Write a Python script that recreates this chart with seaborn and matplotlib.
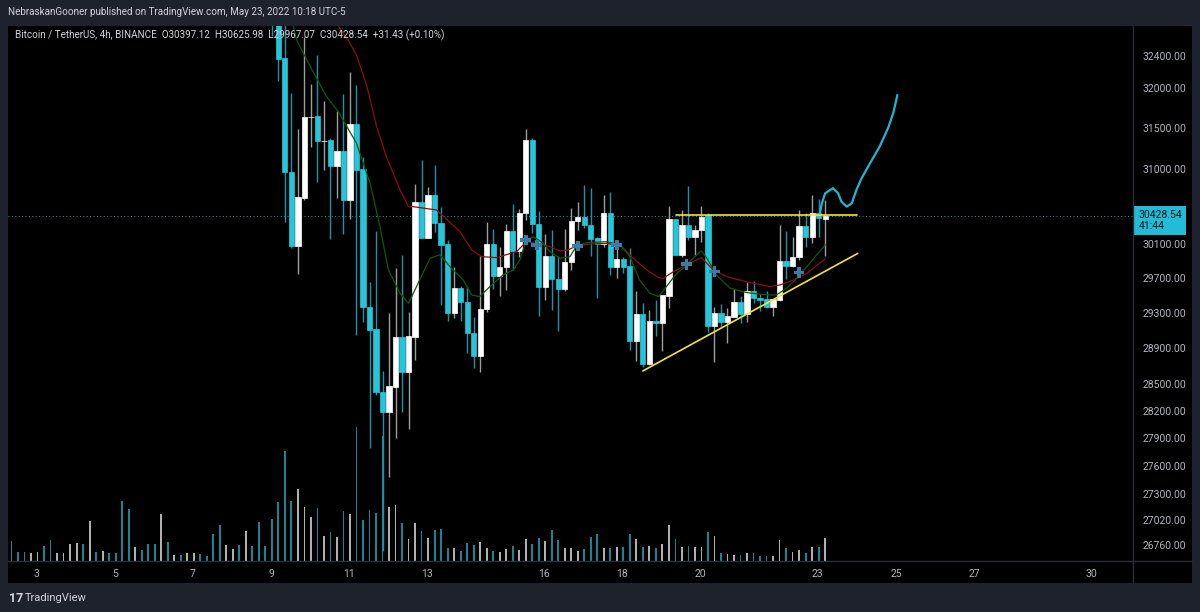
import numpy as np
import pandas as pd
import matplotlib
matplotlib.use("Agg")
import matplotlib.pyplot as plt
import matplotlib.transforms as mtransforms
from matplotlib.lines import Line2D
from matplotlib.patches import Rectangle
from matplotlib.ticker import FixedLocator, FixedFormatter, NullLocator
import seaborn as sns

# BTCUSDT 4h candles, May 2 - May 23 2022 (early ones are above the view)
opens = [38700, 38500, 38300, 37900, 38100, 38250, 37800, 37600, 37750, 37900,
         38200, 38600, 38400, 39500, 39300, 39500, 39200, 38800, 37200, 36300,
         36500, 36300, 36000, 35800, 36400, 36100, 36200, 36000, 36050, 36150,
         35900, 35800, 35200, 34400, 34600, 34700, 34300, 34600, 34200, 33500,
         33300, 32900, 32371, 30959, 30083, 30654, 31630, 31648, 31337, 31353,
         31036, 31222, 30626, 31553, 30999, 29374, 29116, 28413, 28192, 28469,
         29032, 28637, 29032, 30598, 30177, 30686, 30355, 30100, 29298, 29587,
         29431, 29077, 28816, 29347, 30100, 29732, 29838, 30257, 30025, 30467,
         31353, 30340, 29598, 29963, 29690, 29578, 29889, 30375, 30427, 30328,
         30170, 30103, 30467, 29838, 29927, 29846, 28986, 29286, 28720, 29211,
         29192, 29501, 30399, 29975, 30328, 30189, 30269, 30447, 29157, 29298,
         29196, 29260, 29431, 29290, 29555, 29478, 29459, 29367, 29451, 29908,
         29846, 29947, 30316, 30181, 30474, 30397.12]
highs = [38820, 38600, 38400, 38200, 38350, 38300, 37900, 37800, 38000, 38300,
         38700, 38700, 39800, 39700, 39600, 39600, 39300, 38900, 37300, 36700,
         36600, 36400, 36100, 36500, 36500, 36300, 36250, 36150, 36250, 36200,
         35950, 35850, 35300, 34700, 34800, 34750, 34700, 34650, 34300, 33600,
         33450, 33100, 32800, 31930, 31484, 32640, 32047, 32413, 31831, 31374,
         31714, 31922, 32194, 32031, 31149, 29662, 30261, 28645, 29299, 29826,
         29975, 29317, 30814, 31109, 30785, 31048, 30546, 30150, 29838, 29616,
         29613, 29260, 29966, 30360, 30284, 30072, 30336, 30574, 30518, 31485,
         31377, 30494, 30217, 30269, 29966, 30277, 30526, 30598, 30806, 30766,
         30185, 30686, 30718, 30130, 29947, 30052, 29555, 29413, 29336, 29451,
         29509, 30557, 30399, 30506, 30794, 30328, 30554, 30467, 29374, 29405,
         29355, 29575, 29497, 29655, 29670, 29517, 29555, 29459, 30328, 30257,
         30185, 30506, 30474, 30686, 30634, 30625.98]
lows = [38450, 38200, 37800, 37750, 38000, 37700, 37500, 37550, 37700, 37850,
        38100, 38200, 38300, 39200, 39200, 39100, 38700, 36900, 35900, 36200,
        36200, 35900, 35700, 35700, 36000, 36000, 35950, 35950, 36000, 35850,
        35700, 35100, 34200, 34300, 34500, 34200, 34100, 34100, 33400, 33200,
        32650, 32085, 30361, 30052, 29749, 30626, 31264, 30845, 30987, 30162,
        30646, 30222, 30395, 29051, 29203, 27795, 28378, 26700, 27485, 27907,
        28192, 28005, 28768, 30174, 30170, 30249, 29394, 29214, 29241, 29214,
        28843, 28675, 28637, 29317, 29575, 29497, 29567, 29799, 29955, 30387,
        30230, 29270, 29451, 29336, 29100, 29555, 29799, 30269, 30289, 29966,
        29471, 30064, 29740, 29701, 29760, 28881, 28757, 28693, 28712, 29043,
        28870, 29363, 29975, 29955, 30150, 29975, 30130, 29089, 28742, 29146,
        28956, 29260, 29184, 29203, 29413, 29325, 29355, 29271, 29443, 29690,
        29830, 29916, 30064, 30119, 30189, 29967.07]
closes = [38500, 38300, 37900, 38100, 38250, 37800, 37600, 37750, 37900, 38200,
          38600, 38400, 39500, 39300, 39500, 39200, 38800, 37200, 36300, 36500,
          36300, 36000, 35800, 36400, 36100, 36200, 36000, 36050, 36150, 35900,
          35800, 35200, 34400, 34600, 34700, 34300, 34600, 34200, 33500, 33300,
          32900, 32362, 30966, 30083, 30662, 31636, 31640, 31337, 31345, 31036,
          31222, 30626, 31553, 30987, 29374, 29108, 28407, 28192, 28480, 29032,
          28637, 29040, 30598, 30177, 30686, 30355, 30095, 29298, 29587, 29431,
          29077, 28816, 29351, 30100, 29732, 29838, 30257, 30025, 30467, 31353,
          30340, 29598, 29963, 29690, 29578, 29889, 30375, 30427, 30328, 30162,
          30103, 30467, 29838, 29927, 29838, 28986, 29286, 28720, 29211, 29184,
          29509, 30399, 29975, 30328, 30189, 30269, 30427, 29157, 29298, 29196,
          29268, 29431, 29290, 29555, 29471, 29451, 29367, 29459, 29908, 29846,
          29947, 30316, 30181, 30474, 30407, 30428.54]
volumes = [5900, 2800, 2800, 2300, 2800, 4600, 6400, 2500, 2300, 5000,
           5400, 5000, 12100, 2800, 3100, 2300, 2500, 18100, 15600, 4300,
           3400, 5000, 5200, 14100, 5700, 1900, 1900, 2300, 2500, 2100,
           1400, 8200, 10900, 4800, 3700, 4800, 9100, 4400, 11600, 4400,
           12700, 17600, 33100, 17900, 21600, 16300, 13100, 15900, 7600, 8800,
           7300, 14900, 14200, 40300, 12200, 15300, 14400, 37500, 16300, 16900,
           11500, 6600, 11500, 9100, 6800, 9300, 9700, 3800, 3900, 3000,
           5400, 4800, 5800, 3900, 3100, 2700, 3600, 4600, 3400, 6600,
           5200, 6800, 6100, 9400, 6400, 3900, 3900, 2900, 3700, 7300,
           8100, 3900, 3800, 4100, 4100, 8100, 6600, 4300, 4600, 3800,
           5200, 10800, 6600, 4100, 4600, 4100, 4100, 8600, 7400, 2400,
           2100, 1800, 1900, 2300, 2300, 1400, 1600, 1400, 6400, 3900,
           2800, 3400, 2500, 4100, 4100, 6800]

# moving averages (bar index, price) as traced on the chart
ma_slow_x = [50.2, 51.7, 53.0, 54.6, 56.1, 57.6, 59.7, 61.0, 61.7, 65.3, 68.9, 70.7,
             72.2, 74.5, 77.6, 79.1, 81.2, 82.7, 84.3, 85.5, 86.8, 88.9, 91.4, 93.7,
             95.5, 97.6, 99.4, 100.1, 101.7, 103.7, 104.7, 106.0, 107.8, 109.9,
             112.9, 116.5, 118.1, 120.1, 122.2, 125.0]
ma_slow_y = [32782, 32603, 32413, 32017, 31517, 31149, 30746, 30546, 30546, 30506,
             30249, 30033, 29955, 29943, 30013, 30130, 30103, 30072, 30021, 30033,
             30080, 30103, 30111, 30080, 29936, 29799, 29709, 29702, 29779, 29858,
             29896, 29943, 29799, 29721, 29662, 29605, 29625, 29682, 29760, 29928]
ma_fast_x = [43.3, 43.8, 45.9, 48.4, 50.2, 53.0, 55.1, 56.6, 57.9, 59.7, 61.0, 62.7,
             64.3, 65.8, 67.6, 69.4, 70.7, 71.9, 73.5, 75.5, 77.1, 78.1, 79.1, 80.2,
             81.7, 82.7, 84.3, 85.8, 86.8, 88.4, 91.4, 93.5, 95.0, 96.5, 98.1, 99.4,
             100.6, 102.2, 103.7, 104.7, 106.0, 107.0, 108.3, 110.4, 112.9, 116.0,
             117.5, 119.1, 120.9, 122.2, 123.7, 125.0]
ma_fast_y = [32782, 32603, 32267, 31889, 31702, 31313, 30826, 30309, 29799, 29528,
             29413, 29682, 29936, 29975, 29819, 29682, 29509, 29490, 29605, 29740,
             29799, 29916, 30150, 30189, 30111, 30013, 29936, 29955, 30080, 30119,
             30130, 30091, 29955, 29682, 29528, 29490, 29605, 29760, 29846, 29936,
             30021, 29916, 29740, 29587, 29537, 29509, 29509, 29587, 29721, 29838,
             29975, 30091]

# "+" markers
cross_x = [79, 80.7, 87, 93, 103.7, 108, 121]
cross_y = [30150, 30091, 30080, 30091, 29866, 29779, 29768]

# drawn lines: resistance, rising support, projected path
resist_x = [102.1, 129.9]
resist_y = [30450, 30450]
support_x = [97.0, 130.0]
support_y = [28645, 29992]
proj_x = [124.2, 124.5, 125.0, 126.2, 127.0, 127.5, 128.3, 129.1, 129.8, 130.6,
          131.9, 133.4, 134.7, 135.5, 136.1]
proj_y = [30467, 30586, 30706, 30767, 30706, 30606, 30546, 30586, 30746, 30886,
          31069, 31276, 31505, 31694, 31909]

price_ticks = [32400, 32000, 31500, 31000, 30500, 30100, 29700, 29300, 28900,
               28500, 28200, 27900, 27600, 27300, 27020, 26760]
days = [3, 5, 7, 9, 11, 13, 16, 18, 20, 23, 25, 27, 30]

BG = "#1e222d"
TXT = "#b2b5be"
UP, DN = "#ffffff", "#26c6da"
UP_WICK, DN_WICK = "#9e9e9e", "#1b93a8"
VOL_UP, VOL_DN = "#b0b0b0", "#1a8494"

sns.set_theme(style="dark")
plt.rcParams["font.family"] = ["Roboto", "DejaVu Sans"]

W, H = 1200, 612
fig = plt.figure(figsize=(12, 6.12), dpi=100, facecolor=BG)
fig.patches.append(Rectangle((8 / W, 1 - 583 / H), 1184 / W, 557 / H,
                             transform=fig.transFigure, fc="black", ec="none", zorder=-1))
ax = fig.add_axes([8 / W, 1 - 561 / H, 1125 / W, 535 / H])
axv = ax.twinx()
ax.set_zorder(1)
ax.patch.set_visible(False)

df = pd.DataFrame(dict(o=opens, h=highs, l=lows, c=closes, v=volumes))
df["i"] = np.arange(len(df))
up = df.c >= df.o

# volume overlay
axv.bar(df.i, df.v, width=0.28, color=np.where(up, VOL_UP, VOL_DN), linewidth=0)
axv.set_ylim(0, 160500)
axv.set_yticks([])
axv.grid(False)
for s in axv.spines.values():
    s.set_visible(False)

# candles
ax.set_yscale("log")
for mask, wc, bc in [(up, UP_WICK, UP), (~up, DN_WICK, DN)]:
    d = df[mask]
    ax.vlines(d.i, d.l, d.h, color=wc, lw=1.0, zorder=2)
    lo = np.minimum(d.o, d.c)
    ax.bar(d.i, np.abs(d.c - d.o), bottom=lo, width=0.8, color=bc,
           edgecolor=bc, linewidth=0.5, zorder=3)

ax.axhline(closes[-1], color="#26c6da", lw=0.7, alpha=0.8, ls=(0, (1, 2.5)), zorder=1)

sns.lineplot(x=ma_slow_x, y=ma_slow_y, ax=ax, color="#8e0e0e", lw=0.9,
             sort=False, estimator=None, zorder=4)
sns.lineplot(x=ma_fast_x, y=ma_fast_y, ax=ax, color="#0c5810", lw=0.9,
             sort=False, estimator=None, zorder=4)
sns.scatterplot(x=cross_x, y=cross_y, ax=ax, marker="P", s=60, color="#3a7ca6",
                edgecolor="none", zorder=5)
sns.lineplot(x=resist_x, y=resist_y, ax=ax, color="#f3e23c", lw=1.2,
             sort=False, estimator=None, zorder=5)
sns.lineplot(x=support_x, y=support_y, ax=ax, color="#f3e23c", lw=1.2,
             sort=False, estimator=None, zorder=5)
sns.lineplot(x=proj_x, y=proj_y, ax=ax, color="#1eb6d4", lw=1.6,
             sort=False, estimator=None, zorder=5)

ax.set_xlim(-0.54, 172.3)
ax.set_ylim(26593, 32782)
ax.grid(False)
for s in ax.spines.values():
    s.set_visible(False)

ax.yaxis.tick_right()
ax.yaxis.set_major_locator(FixedLocator(price_ticks))
ax.yaxis.set_major_formatter(FixedFormatter([f"{p:.2f}" for p in price_ticks]))
ax.yaxis.set_minor_locator(NullLocator())
ax.tick_params(axis="y", length=0, pad=7, labelsize=7.5, labelcolor=TXT)

# day labels: bar 3.87 falls on May 3, 00:00 (UTC-5), 6 bars per day
ax.set_xticks([3.87 + 6 * (d - 3) for d in days], labels=[str(d) for d in days])
ax.tick_params(axis="x", length=0, pad=6, labelsize=7.5, labelcolor=TXT)
ax.set_xlabel("")
ax.set_ylabel("")

# last price tag on the price scale
trans = mtransforms.blended_transform_factory(ax.transAxes, ax.transData)
ax.annotate(f"{closes[-1]:.2f}\n41:44", xy=(1, closes[-1]), xycoords=trans,
            xytext=(4, -3), textcoords="offset points", ha="left", va="center",
            fontsize=7.5, color="#0b1418", linespacing=1.15,
            bbox=dict(boxstyle="square,pad=0.4", fc="#22bcd6", ec="none"),
            annotation_clip=False, zorder=10)

# panel separators
fig.add_artist(Line2D([8 / W, 1192 / W], [1 - 561 / H] * 2, color="#2a2e39", lw=1))
fig.add_artist(Line2D([1133 / W] * 2, [1 - 583 / H, 1 - 26 / H], color="#2a2e39", lw=1))

fig.text(8 / W, 1 - 12 / H, "NebraskanGooner published on TradingView.com, May 23, 2022 10:18 UTC-5",
         color="#d1d4dc", fontsize=7.1, va="center", ha="left")
fig.text(15 / W, 1 - 35 / H,
         "Bitcoin / TetherUS, 4h, BINANCE  O30397.12  H30625.98  L29967.07  C30428.54  +31.43 (+0.10%)",
         color="#d1d4dc", fontsize=7.1, va="center", ha="left")
fig.text(9 / W, 1 - 598 / H, "17", color="#d1d4dc", fontsize=9, fontweight="bold",
         va="center", ha="left")
fig.text(25 / W, 1 - 598 / H, "TradingView", color="#d1d4dc", fontsize=8,
         va="center", ha="left")

fig.savefig("out.png", dpi=100, facecolor=BG)
